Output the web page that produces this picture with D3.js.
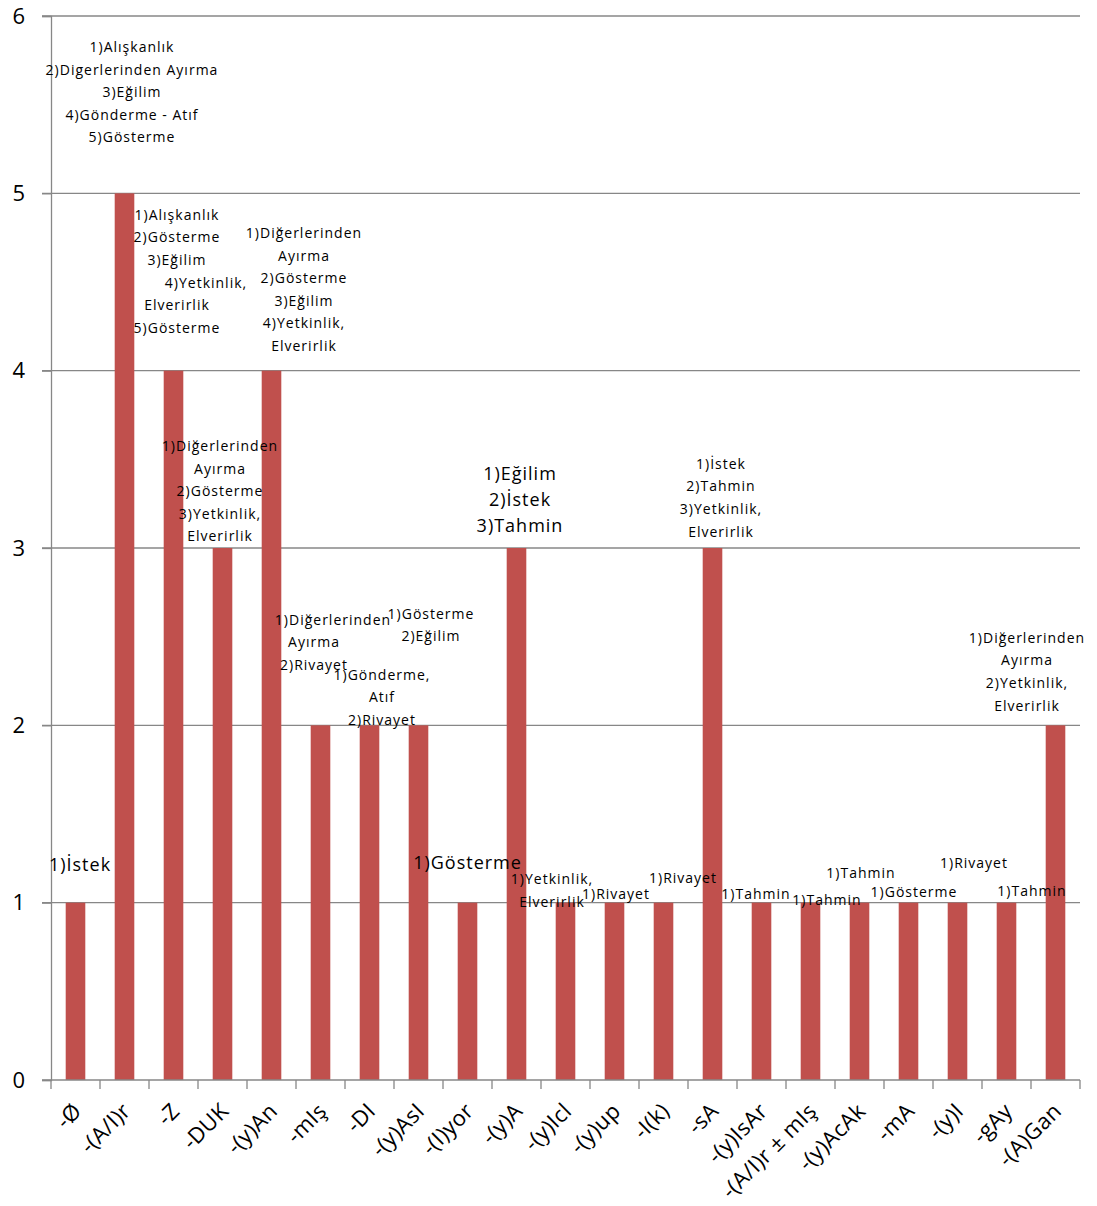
<!DOCTYPE html>
<html>
<head>
<meta charset="utf-8">
<script src="https://cdn.jsdelivr.net/npm/d3@7"></script>
<style>
  body { margin: 0; background: #fff; }
  svg text { font-family: "Open Sans", "DejaVu Sans", sans-serif; fill: #000; }
</style>
</head>
<body>
<div class="container"></div>
<script>
const WIDTH = 1097;
const HEIGHT = 1206;

// suffixes on the x axis
var categories = ["-Ø", "-(A/I)r", "-Z", "-DUK", "-(y)An", "-mIş", "-DI", "-(y)AsI", "-(I)yor", "-(y)A",
    "-(y)Icl", "-(y)up", "-I(k)", "-sA", "-(y)IsAr", "-(A/I)r ± mIş", "-(y)AcAk", "-mA", "-(y)I", "-gAy", "-(A)Gan"];

// number of meanings per suffix
var values = [1, 5, 4, 3, 4, 2, 2, 2, 1, 3, 1, 1, 1, 3, 1, 1, 1, 1, 1, 1, 2];

var yTicks = [0, 1, 2, 3, 4, 5, 6];

// data labels (one entry per bar, lines of text)
var labels = [
    ["1)İstek"],
    ["1)Alışkanlık", "2)Digerlerinden Ayırma", "3)Eğilim", "4)Gönderme - Atıf", "5)Gösterme"],
    ["1)Alışkanlık", "2)Gösterme", "3)Eğilim", "4)Yetkinlik,", "Elverirlik", "5)Gösterme"],
    ["1)Diğerlerinden", "Ayırma", "2)Gösterme", "3)Yetkinlik,", "Elverirlik"],
    ["1)Diğerlerinden", "Ayırma", "2)Gösterme", "3)Eğilim", "4)Yetkinlik,", "Elverirlik"],
    ["1)Diğerlerinden", "Ayırma", "2)Rivayet"],
    ["1)Gönderme,", "Atıf", "2)Rivayet"],
    ["1)Gösterme", "2)Eğilim"],
    ["1)Gösterme"],
    ["1)Eğilim", "2)İstek", "3)Tahmin"],
    ["1)Yetkinlik,", "Elverirlik"],
    ["1)Rivayet"],
    ["1)Rivayet"],
    ["1)İstek", "2)Tahmin", "3)Yetkinlik,", "Elverirlik"],
    ["1)Tahmin"],
    ["1)Tahmin"],
    ["1)Tahmin"],
    ["1)Gösterme"],
    ["1)Rivayet"],
    ["1)Tahmin"],
    ["1)Diğerlerinden", "Ayırma", "2)Yetkinlik,", "Elverirlik"]
];

// where each label block was dragged to: [x shift in px from bar centre, y of first line in data units]
var labelPos = [
    [4.5, 1.212], [7.5, 5.825], [3.5, 4.878], [-2.5, 3.575], [32.5, 4.776], [-6.5, 2.594], [12.5, 2.284],
    [12.5, 2.628], [0, 1.224], [3.5, 3.417], [-13.5, 1.133], [1.5, 1.049], [19.5, 1.139], [8.5, 3.474],
    [-5.5, 1.049], [16.5, 1.015], [1.5, 1.167], [5.5, 1.060], [16.5, 1.224], [25.5, 1.066], [-28.5, 2.493]
];
// single lines that sit off the block centre: [bar, line, px]
var lineShift = [[2, 3, 29], [5, 0, 19]];
// the bigger labels
var bigLabels = [0, 8, 9];

var margin = {left: 51, right: 17, top: 16, bottom: 126};

var svg = d3.select('.container').append('svg')
    .attr('width', WIDTH)
    .attr('height', HEIGHT);

var xScale = d3.scaleBand()
    .domain(categories)
    .range([margin.left, WIDTH - margin.right])
    .paddingInner(0.6)
    .paddingOuter(0.3);

var yScale = d3.scaleLinear()
    .domain([0, 6])
    .range([HEIGHT - margin.bottom, margin.top]);

var step = xScale.step();
var center = (c) => xScale(c) + xScale.bandwidth() / 2;

// gridlines
svg.append('g')
    .selectAll('line').data(yTicks.slice(1)).enter()
    .append('line')
    .attr('x1', margin.left - 9)
    .attr('x2', WIDTH - margin.right)
    .attr('y1', (d) => yScale(d))
    .attr('y2', (d) => yScale(d))
    .attr('stroke', '#878787')
    .attr('stroke-width', 1.3);

// y axis
var yAxis = d3.axisLeft(yScale).tickValues(yTicks).tickSize(9).tickFormat(d3.format('d'));
var gy = svg.append('g')
    .attr('transform', `translate(${margin.left},0)`)
    .call(yAxis);
gy.select('.domain').attr('stroke', '#878787').attr('stroke-width', 1.3);
gy.selectAll('.tick line').attr('stroke', '#878787').attr('stroke-width', 1.3);
gy.selectAll('.tick text')
    .attr('x', -26)
    .style('font-size', '22px');

// bars
svg.append('g')
    .selectAll('rect').data(values).enter()
    .append('rect')
    .attr('x', (d, i) => xScale(categories[i]))
    .attr('width', xScale.bandwidth())
    .attr('y', (d) => yScale(d))
    .attr('height', (d) => yScale(0) - yScale(d))
    .attr('fill', '#C0504D');

// x axis
var xBase = yScale(0);
var gx = svg.append('g').attr('transform', `translate(0,${xBase})`);
gx.append('line')
    .attr('x1', margin.left - 9)
    .attr('x2', WIDTH - margin.right)
    .attr('stroke', '#878787')
    .attr('stroke-width', 1.3);
gx.selectAll('.xtick').data(d3.range(categories.length + 1)).enter()
    .append('line')
    .attr('x1', (i) => margin.left + i * step)
    .attr('x2', (i) => margin.left + i * step)
    .attr('y1', 0)
    .attr('y2', 9)
    .attr('stroke', '#878787')
    .attr('stroke-width', 1.3);
gx.selectAll('.xlab').data(categories).enter()
    .append('text')
    .attr('text-anchor', 'end')
    .attr('transform', (c) => `translate(${center(c) + 2},${27}) rotate(-45)`)
    .attr('dy', '0.35em')
    .style('font-size', '22px')
    .style('letter-spacing', '0.4px')
    .text((c) => c);

// data labels
var lab = svg.append('g');
labels.forEach(function(lines, i) {
    var big = bigLabels.indexOf(i) >= 0;
    var fs = big ? 18 : 14;
    var lh = big ? 26 : 22.6;
    var x = center(categories[i]) + labelPos[i][0];
    var y0 = yScale(labelPos[i][1]);
    var shift = (j) => {
        var s = lineShift.find((d) => d[0] === i && d[1] === j);
        return s ? s[2] : 0;
    };
    var t = lab.append('text')
        .attr('text-anchor', 'middle')
        .style('font-size', fs + 'px')
        .style('letter-spacing', '1px');
    t.selectAll('tspan').data(lines).enter()
        .append('tspan')
        .attr('x', (d, j) => x + shift(j))
        .attr('y', (d, j) => y0 + j * lh)
        .attr('dy', '0.35em')
        .text((d) => d);
});
</script>
</body>
</html>
